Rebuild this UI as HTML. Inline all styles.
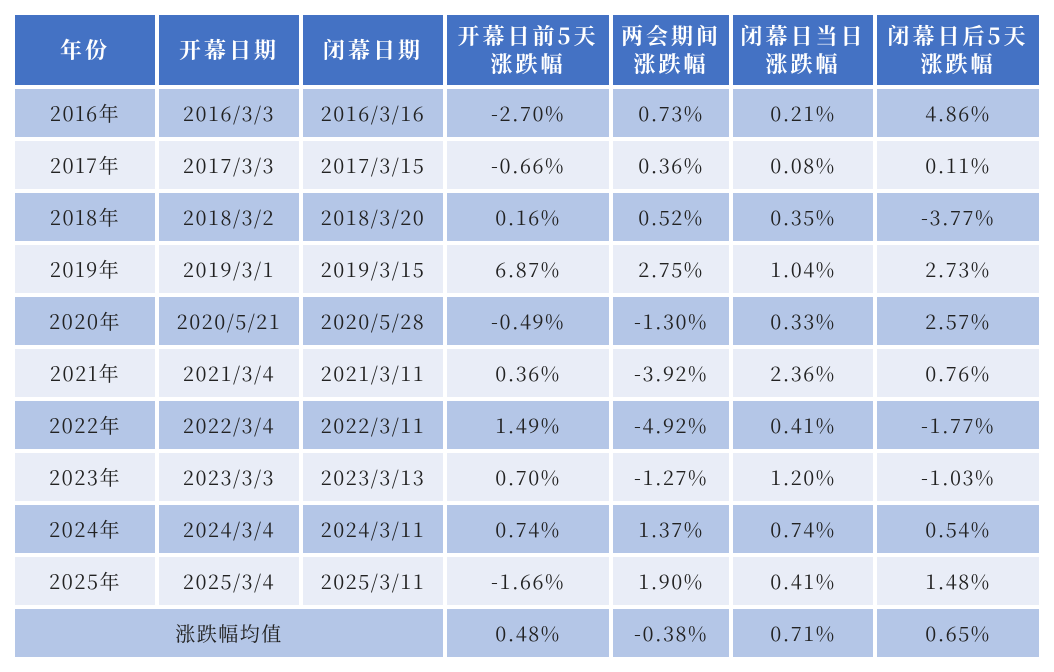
<!DOCTYPE html>
<html><head><meta charset="utf-8"><style>
body{margin:0;width:1054px;height:672px;background:#fff;overflow:hidden}
.g{position:absolute;left:15px;top:15px;display:grid;grid-template-columns:140px 140px 140px 162px 116px 140px 162px;grid-template-rows:70px repeat(11,48px);gap:4px;font-family:"Noto Serif CJK SC",serif;font-size:20px;color:#222}
.g div{display:flex;align-items:center;justify-content:center;text-align:center;letter-spacing:1.5px;line-height:1}
.h{background:#4472C4;color:#fff;font-weight:bold;font-size:22px;line-height:28px!important;letter-spacing:3px!important}
.d{background:#B4C6E7}.l{background:#E9EDF7}
.s{grid-column:span 3}
</style></head><body><div class="g">
<div class="h">年份</div><div class="h">开幕日期</div><div class="h">闭幕日期</div><div class="h">开幕日前5天<br>涨跌幅</div><div class="h">两会期间<br>涨跌幅</div><div class="h">闭幕日当日<br>涨跌幅</div><div class="h">闭幕日后5天<br>涨跌幅</div>
<div class="d">2016年</div><div class="d">2016/3/3</div><div class="d">2016/3/16</div><div class="d">-2.70%</div><div class="d">0.73%</div><div class="d">0.21%</div><div class="d">4.86%</div>
<div class="l">2017年</div><div class="l">2017/3/3</div><div class="l">2017/3/15</div><div class="l">-0.66%</div><div class="l">0.36%</div><div class="l">0.08%</div><div class="l">0.11%</div>
<div class="d">2018年</div><div class="d">2018/3/2</div><div class="d">2018/3/20</div><div class="d">0.16%</div><div class="d">0.52%</div><div class="d">0.35%</div><div class="d">-3.77%</div>
<div class="l">2019年</div><div class="l">2019/3/1</div><div class="l">2019/3/15</div><div class="l">6.87%</div><div class="l">2.75%</div><div class="l">1.04%</div><div class="l">2.73%</div>
<div class="d">2020年</div><div class="d">2020/5/21</div><div class="d">2020/5/28</div><div class="d">-0.49%</div><div class="d">-1.30%</div><div class="d">0.33%</div><div class="d">2.57%</div>
<div class="l">2021年</div><div class="l">2021/3/4</div><div class="l">2021/3/11</div><div class="l">0.36%</div><div class="l">-3.92%</div><div class="l">2.36%</div><div class="l">0.76%</div>
<div class="d">2022年</div><div class="d">2022/3/4</div><div class="d">2022/3/11</div><div class="d">1.49%</div><div class="d">-4.92%</div><div class="d">0.41%</div><div class="d">-1.77%</div>
<div class="l">2023年</div><div class="l">2023/3/3</div><div class="l">2023/3/13</div><div class="l">0.70%</div><div class="l">-1.27%</div><div class="l">1.20%</div><div class="l">-1.03%</div>
<div class="d">2024年</div><div class="d">2024/3/4</div><div class="d">2024/3/11</div><div class="d">0.74%</div><div class="d">1.37%</div><div class="d">0.74%</div><div class="d">0.54%</div>
<div class="l">2025年</div><div class="l">2025/3/4</div><div class="l">2025/3/11</div><div class="l">-1.66%</div><div class="l">1.90%</div><div class="l">0.41%</div><div class="l">1.48%</div>
<div class="d s">涨跌幅均值</div><div class="d">0.48%</div><div class="d">-0.38%</div><div class="d">0.71%</div><div class="d">0.65%</div>
</div></body></html>
